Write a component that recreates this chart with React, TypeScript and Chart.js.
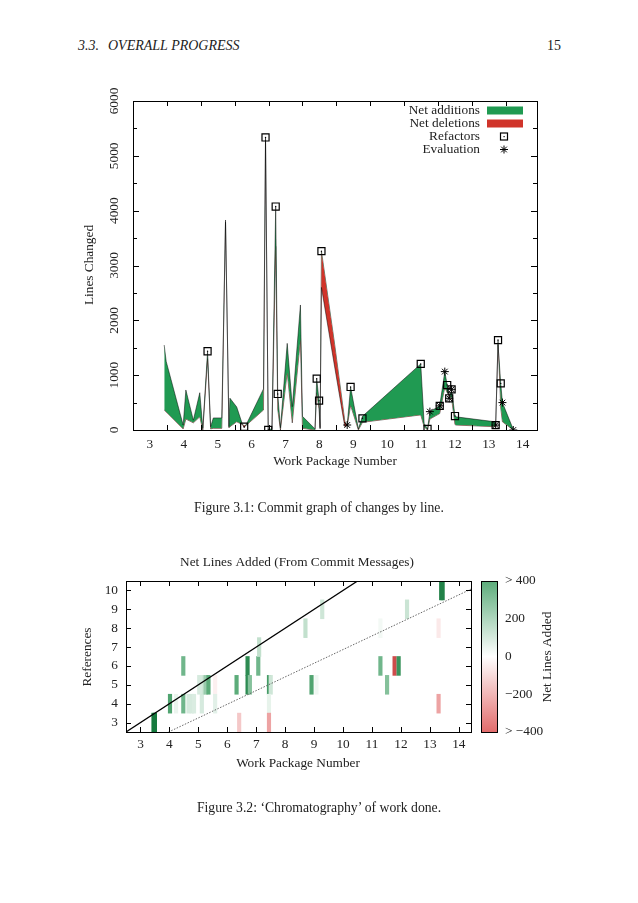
import React, { useEffect, useRef } from 'react';
import { Chart, registerables } from 'chart.js';

Chart.register(...registerables);

const SERIF = '"Liberation Serif", "Times New Roman", serif';
const TXT = `13.3px ${SERIF}`;

// ---------------- Figure 3.1 data ----------------
const commitX = [3.42, 3.48, 3.98, 4.06, 4.28, 4.47, 4.56, 4.70, 4.79, 4.87, 5.12, 5.23, 5.33, 5.36, 5.56, 5.72, 5.78, 5.85, 6.35, 6.41, 6.49, 6.60, 6.71, 6.77, 6.85, 7.05, 7.20, 7.44, 7.50, 7.87, 7.92, 7.99, 8.02, 8.06, 8.45, 8.75, 8.82, 8.92, 9.15, 9.27, 10.99, 11.09, 11.19, 11.26, 11.55, 11.70, 11.77, 11.83, 11.90, 12.00, 12.03, 13.18, 13.20, 13.27, 13.35, 13.40, 13.72];
const linesAdded = [1550, 1250, 90, 730, 180, 680, 30, 1430, 60, 220, 220, 3830, 60, 580, 420, 120, 40, 110, 750, 5330, 10, 20, 4075, 660, 40, 1580, 425, 2280, 250, 20, 936, 535, 40, 2600, 1150, 60, 91, 785, 20, 250, 1205, 120, 20, 335, 440, 1065, 820, 578, 742, 255, 240, 150, 90, 1560, 850, 500, 10];
const linesDeleted = [365, 330, 20, 200, 130, 240, 0, 1300, 20, 30, 30, 3790, 40, 60, 150, 100, 80, 90, 365, 5290, 0, 0, 3350, 380, 0, 1050, 130, 1650, 30, 0, 680, 380, 20, 3261, 1560, 160, 70, 450, 0, 140, 275, 60, 0, 200, 300, 780, 680, 640, 580, 100, 90, 60, 60, 1640, 400, 150, 0];
const refactorX = [4.70, 5.78, 6.41, 6.49, 6.71, 6.77, 7.92, 7.99, 8.06, 8.92, 9.27, 10.99, 11.19, 11.55, 11.77, 11.83, 11.90, 12.00, 13.20, 13.27, 13.35];
const refactorY = [1436, 60, 5335, 0, 4075, 657, 936, 535, 3261, 785, 213, 1205, 20, 440, 820, 578, 742, 255, 90, 1640, 850];
const evalX = [8.82, 11.26, 11.55, 11.70, 11.83, 11.90, 13.20, 13.40, 13.72];
const evalY = [91, 335, 440, 1065, 578, 742, 90, 500, 0];
const wpLabels = ['3', '4', '5', '6', '7', '8', '9', '10', '11', '12', '13', '14'];
const wpTickMarks1 = [3.5, 4.5, 5.5, 6.5, 7.5, 8.5, 9.5, 10.5, 11.5, 12.5, 13.5];
const linesTicks = [0, 1000, 2000, 3000, 4000, 5000, 6000];
const legend1 = ['Net additions', 'Net deletions', 'Refactors', 'Evaluation'];

// ---------------- Figure 3.2 data ----------------
const heatX = [3.45, 3.50, 4.02, 4.23, 4.48, 4.48, 4.66, 4.77, 4.85, 5.03, 5.12, 5.17, 5.25, 5.35, 5.58, 5.58, 6.32, 6.41, 6.70, 6.70, 6.78, 7.07, 7.10, 7.44, 7.50, 7.44, 7.44, 8.70, 8.91, 9.08, 9.28, 11.29, 11.29, 11.52, 11.78, 11.92, 12.21, 13.30, 13.30, 13.39, 13.44];
const heatRef = [3, 3, 4, 4, 6, 4, 4, 4, 4, 5, 4, 5, 5, 5, 5, 4, 5, 3, 6, 5, 5, 6, 7, 5, 5, 4, 3, 8, 5, 5, 9, 8, 6, 5, 6, 6, 9, 8, 4, 10, 10];
const heatNet = [700, 700, 450, 50, 350, 350, 100, 100, 90, 100, 100, 120, 250, 400, -40, 70, 400, -150, 600, 600, 300, 350, 150, 500, 120, 60, -250, 150, 450, 40, 120, 30, 350, 300, -500, 550, 130, -60, -250, 650, 650];
const refTicks = [3, 4, 5, 6, 7, 8, 9, 10];
const diagX = [2.5, 10.5];
const diagY = [2.5, 10.5];
const trendX = [3.97, 14.42];
const trendY = [2.5, 10.07];
const cbTicks = [400, 200, 0, -200, -400];
const cbLabels = ['> 400', '200', '0', '\u2212200', '> \u2212400'];

const GREEN = 'rgb(32,154,82)';
const RED = 'rgb(208,52,42)';
const EDGE = 'rgba(0,0,0,0.55)';

function mix(a: number[], b: number[], t: number) {
  return `rgb(${Math.round(a[0] + (b[0] - a[0]) * t)},${Math.round(a[1] + (b[1] - a[1]) * t)},${Math.round(a[2] + (b[2] - a[2]) * t)})`;
}
const WHITE = [255, 255, 255];
const G_END = [92, 172, 122];
const R_END = [226, 108, 108];
const G_DARK = [22, 122, 62];
const R_DARK = [185, 42, 42];
function heatColor(v: number) {
  const t = v / 400;
  if (t >= 0) {
    if (t <= 1) return mix(WHITE, G_END, t);
    return mix(G_END, G_DARK, Math.min(1, (t - 1) / 0.75));
  }
  if (t >= -1) return mix(WHITE, R_END, -t);
  return mix(R_END, R_DARK, Math.min(1, (-t - 1) / 0.5));
}

function line(ctx: CanvasRenderingContext2D, x1: number, y1: number, x2: number, y2: number) {
  ctx.beginPath();
  ctx.moveTo(x1, y1);
  ctx.lineTo(x2, y2);
  ctx.stroke();
}
function rotText(ctx: CanvasRenderingContext2D, s: string, x: number, y: number) {
  ctx.save();
  ctx.translate(x, y);
  ctx.rotate(-Math.PI / 2);
  ctx.textAlign = 'center';
  ctx.textBaseline = 'middle';
  ctx.fillText(s, 0, 0);
  ctx.restore();
}

const fig1Decor = {
  id: 'fig1Decor',
  afterDraw(chart: any) {
    const { ctx, chartArea: a, scales } = chart;
    const x = scales.x, y = scales.y;
    ctx.save();
    ctx.strokeStyle = '#000';
    ctx.lineWidth = 1;
    ctx.strokeRect(Math.round(a.left) + 0.5, Math.round(a.top) + 0.5, Math.round(a.right - a.left), Math.round(a.bottom - a.top));
    for (const v of wpTickMarks1) {
      const px = Math.round(x.getPixelForValue(v)) + 0.5;
      line(ctx, px, a.bottom, px, a.bottom - 5);
      line(ctx, px, a.top, px, a.top + 5);
    }
    for (let v = 500; v < 6000; v += 500) {
      const py = Math.round(y.getPixelForValue(v)) + 0.5;
      const len = v % 1000 === 0 ? 6 : 4;
      line(ctx, a.left, py, a.left + len, py);
      line(ctx, a.right, py, a.right - len, py);
    }
    ctx.fillStyle = '#222';
    ctx.font = TXT;
    ctx.textAlign = 'center';
    ctx.textBaseline = 'middle';
    wpLabels.forEach((s) => {
      ctx.fillText(s, x.getPixelForValue(Number(s)), a.bottom + 15);
    });
    linesTicks.forEach((v) => rotText(ctx, String(v), a.left - 18, y.getPixelForValue(v)));
    ctx.fillText('Work Package Number', (a.left + a.right) / 2, 462);
    rotText(ctx, 'Lines Changed', 90, 265);
    // legend
    const rows = [110.5, 123.5, 136.5, 149.5];
    ctx.textAlign = 'right';
    legend1.forEach((s, i) => ctx.fillText(s, 480, rows[i]));
    ctx.fillStyle = GREEN;
    ctx.fillRect(487, rows[0] - 4, 36, 8);
    ctx.fillStyle = RED;
    ctx.fillRect(487, rows[1] - 4, 36, 8);
    ctx.strokeStyle = '#000';
    ctx.lineWidth = 1.2;
    ctx.strokeRect(500.5, rows[2] - 3.5, 7, 7);
    ctx.fillStyle = '#000';
    ctx.fillRect(503.5, rows[2] - 0.5, 1.2, 1.2);
    ctx.lineWidth = 1;
    const cx = 504, cy = rows[3];
    for (let k = 0; k < 4; k++) {
      const ang = (k * Math.PI) / 4;
      line(ctx, cx - 4 * Math.cos(ang), cy - 4 * Math.sin(ang), cx + 4 * Math.cos(ang), cy + 4 * Math.sin(ang));
    }
    ctx.restore();
  },
};

const fig2Decor = {
  id: 'fig2Decor',
  afterDraw(chart: any) {
    const { ctx, chartArea: a, scales } = chart;
    const x = scales.x, y = scales.y;
    ctx.save();
    ctx.strokeStyle = '#000';
    ctx.lineWidth = 1;
    ctx.strokeRect(Math.round(a.left) + 0.5, Math.round(a.top) + 0.5, Math.round(a.right - a.left), Math.round(a.bottom - a.top));
    wpLabels.forEach((s) => {
      const px = Math.round(x.getPixelForValue(Number(s))) + 0.5;
      line(ctx, px, a.bottom, px, a.bottom - 5);
      line(ctx, px, a.top, px, a.top + 5);
    });
    refTicks.forEach((v) => {
      const py = Math.round(y.getPixelForValue(v)) + 0.5;
      line(ctx, a.left, py, a.left + 5, py);
      line(ctx, a.right, py, a.right - 5, py);
    });
    ctx.fillStyle = '#222';
    ctx.font = TXT;
    ctx.textAlign = 'center';
    ctx.textBaseline = 'middle';
    wpLabels.forEach((s) => ctx.fillText(s, x.getPixelForValue(Number(s)), a.bottom + 13));
    ctx.textAlign = 'right';
    refTicks.forEach((v) => ctx.fillText(String(v), a.left - 8, y.getPixelForValue(v)));
    ctx.textAlign = 'center';
    ctx.fillText('Net Lines Added (From Commit Messages)', 297, 73);
    ctx.fillText('Work Package Number', 298, 274);
    rotText(ctx, 'References', 88, 167);
    // colour box
    const bl = 481, br = 497, bt = a.top, bb = a.bottom;
    const grad = ctx.createLinearGradient(0, bt, 0, bb);
    for (let i = 0; i <= 20; i++) {
      const v = 400 - (800 * i) / 20;
      grad.addColorStop(i / 20, heatColor(v));
    }
    ctx.fillStyle = grad;
    ctx.fillRect(bl, bt, br - bl, bb - bt);
    ctx.strokeStyle = '#000';
    ctx.strokeRect(bl + 0.5, Math.round(bt) + 0.5, br - bl, Math.round(bb - bt));
    ctx.fillStyle = '#222';
    ctx.textAlign = 'left';
    cbTicks.forEach((v, i) => {
      const py = bt + ((400 - v) / 800) * (bb - bt);
      ctx.fillText(cbLabels[i], 505, py);
    });
    rotText(ctx, 'Net Lines Added', 548, 167);
    ctx.restore();
  },
};

export default function App() {
  const ref1 = useRef<HTMLCanvasElement>(null);
  const ref2 = useRef<HTMLCanvasElement>(null);

  useEffect(() => {
    const c1 = new Chart(ref1.current as HTMLCanvasElement, {
      type: 'line',
      data: {
        datasets: [
          {
            label: 'Net additions',
            data: commitX.map((x, i) => ({ x, y: linesAdded[i] })),
            borderColor: EDGE,
            borderWidth: 0.9,
            pointRadius: 0,
            fill: { target: 1, above: GREEN, below: RED },
            order: 2,
          },
          {
            label: 'Deletions',
            data: commitX.map((x, i) => ({ x, y: linesDeleted[i] })),
            borderColor: EDGE,
            borderWidth: 0.9,
            pointRadius: 0,
            fill: false,
            order: 2,
          },
          {
            label: 'Refactors',
            data: refactorX.map((x, i) => ({ x, y: refactorY[i] })),
            showLine: false,
            pointStyle: 'rect',
            pointRadius: 5,
            pointBorderColor: '#000',
            pointBackgroundColor: 'rgba(0,0,0,0)',
            pointBorderWidth: 1.2,
            order: 0,
          },
          {
            label: 'Refactor centres',
            data: refactorX.map((x, i) => ({ x, y: refactorY[i] })),
            showLine: false,
            pointStyle: 'circle',
            pointRadius: 0.7,
            pointBorderWidth: 0,
            pointBackgroundColor: '#000',
            order: 0,
          },
          {
            label: 'Evaluation',
            data: evalX.map((x, i) => ({ x, y: evalY[i] })),
            showLine: false,
            pointStyle: 'star',
            pointRadius: 4,
            pointBorderColor: '#000',
            pointBorderWidth: 1,
            order: 0,
          },
        ],
      } as any,
      options: {
        animation: false,
        responsive: false,
        events: [],
        layout: { padding: { left: 133, right: 101, top: 101, bottom: 60 } },
        scales: {
          x: { type: 'linear', min: 2.5, max: 14.42, display: false },
          y: { type: 'linear', min: 0, max: 6000, display: false },
        },
        plugins: { legend: { display: false }, tooltip: { enabled: false } },
      } as any,
      plugins: [fig1Decor],
    });

    const c2 = new Chart(ref2.current as HTMLCanvasElement, {
      type: 'bar',
      data: {
        datasets: [
          {
            type: 'line',
            label: 'y = x',
            data: diagX.map((x, i) => ({ x, y: diagY[i] })),
            borderColor: '#000',
            borderWidth: 1.3,
            pointRadius: 0,
            fill: false,
            order: 0,
          },
          {
            type: 'line',
            label: 'trend',
            data: trendX.map((x, i) => ({ x, y: trendY[i] })),
            borderColor: '#666',
            borderWidth: 1,
            borderDash: [1.5, 1.5],
            pointRadius: 0,
            fill: false,
            order: 0,
          },
          {
            type: 'bar',
            label: 'Net lines added',
            data: heatX.map((x, i) => ({ x, y: [heatRef[i] - 0.5, heatRef[i] + 0.5] })),
            backgroundColor: heatNet.map(heatColor),
            borderWidth: 0,
            barThickness: 3.5,
            order: 1,
          },
        ],
      } as any,
      options: {
        animation: false,
        responsive: false,
        events: [],
        layout: { padding: { left: 126, right: 167, top: 91, bottom: 171 } },
        scales: {
          x: { type: 'linear', min: 2.5, max: 14.42, display: false, offset: false },
          y: { type: 'linear', min: 2.5, max: 10.5, display: false },
        },
        plugins: { legend: { display: false }, tooltip: { enabled: false } },
      } as any,
      plugins: [fig2Decor],
    });

    return () => {
      c1.destroy();
      c2.destroy();
    };
  }, []);

  const page: React.CSSProperties = {
    position: 'absolute',
    left: 0,
    top: 0,
    width: 638,
    height: 903,
    background: '#fff',
    fontFamily: SERIF,
    color: '#222',
    overflow: 'hidden',
  };
  const abs = (s: React.CSSProperties): React.CSSProperties => ({ position: 'absolute', whiteSpace: 'nowrap', ...s });

  return (
    <div style={page}>
      <div style={abs({ left: 78, top: 38, fontSize: 14, lineHeight: '16px', fontStyle: 'italic' })}>3.3.</div>
      <div style={abs({ left: 108, top: 38, fontSize: 14, lineHeight: '16px', fontStyle: 'italic' })}>OVERALL PROGRESS</div>
      <div style={abs({ right: 638 - 561, top: 38, fontSize: 14, lineHeight: '16px' })}>15</div>
      <canvas ref={ref1} width={638} height={490} style={{ position: 'absolute', left: 0, top: 0 }} />
      <canvas ref={ref2} width={638} height={413} style={{ position: 'absolute', left: 0, top: 490 }} />
      <div style={abs({ left: 0, width: 638, top: 500, textAlign: 'center', fontSize: 13.7, lineHeight: '16px' })}>
        Figure 3.1: Commit graph of changes by line.
      </div>
      <div style={abs({ left: 0, width: 638, top: 800, textAlign: 'center', fontSize: 13.7, lineHeight: '16px' })}>
        Figure 3.2: {'\u2018'}Chromatography{'\u2019'} of work done.
      </div>
    </div>
  );
}
